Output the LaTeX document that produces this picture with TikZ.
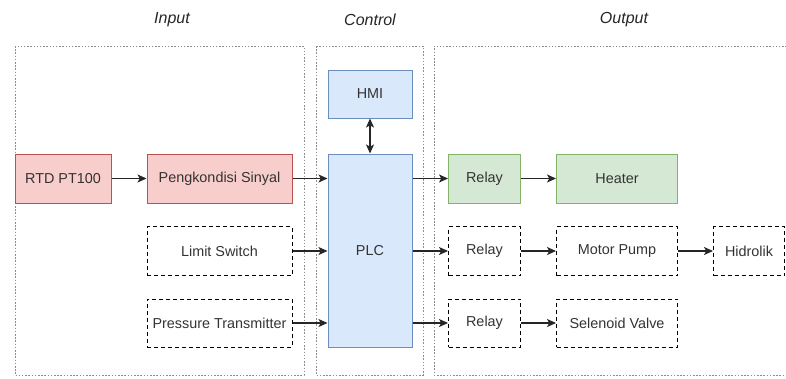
\documentclass[tikz,border=0pt]{standalone}
\usepackage{fontspec}
\setmainfont{Liberation Sans}
\usetikzlibrary{arrows.meta}
\definecolor{redfill}{HTML}{F8CECC}
\definecolor{redline}{HTML}{B85450}
\definecolor{bluefill}{HTML}{DAE8FC}
\definecolor{blueline}{HTML}{6C8EBF}
\definecolor{greenfill}{HTML}{D5E8D4}
\definecolor{greenline}{HTML}{82B366}
\definecolor{txt}{HTML}{333333}
\definecolor{grp}{HTML}{8C8C8C}
\tikzset{
  box/.style={rectangle, draw, line width=1pt, inner sep=0pt, text=txt,
    font=\fontsize{14.4}{16}\selectfont},
  redbox/.style={box, fill=redfill, draw=redline},
  bluebox/.style={box, fill=bluefill, draw=blueline},
  greenbox/.style={box, fill=greenfill, draw=greenline},
  dashbox/.style={box, draw=black, dash pattern=on 4pt off 3pt},
  grpline/.style={draw=grp, line width=1pt, dash pattern=on 1.5pt off 1.7pt},
  title/.style={font=\fontsize{16}{18}\selectfont\itshape, text=black!85},
  conn/.style={draw=black!85, line width=1.1pt, -{Stealth[length=9pt,width=8pt,inset=2.2pt]}},
  conn2/.style={draw=black!85, line width=1.1pt, {Stealth[length=9pt,width=8pt,inset=2.2pt]}-{Stealth[length=9pt,width=8pt,inset=2.2pt]}}
}
\begin{document}
\begin{tikzpicture}[x=1pt,y=-1pt]
\useasboundingbox (0,0) rectangle (786,378);
% group containers
\draw[grpline] (15,46) rectangle (304,375);
\draw[grpline] (316,46) rectangle (423,375);
\draw[grpline] (790,46) -- (434,46) -- (434,375) -- (790,375);
% titles
\node[title] (tin) at (172,20) {Input};
\node[title] (tctl) at (370,20) {Control};
\node[title] (tout) at (624,20) {Output};
% nodes
\node[redbox, minimum width=96, minimum height=49] (rtd) at (63,178.5) {RTD PT100};
\node[redbox, minimum width=145, minimum height=49] (pk) at (219.5,178.5) {Pengkondisi Sinyal};
\node[dashbox, minimum width=145, minimum height=49] (ls) at (219.5,251) {Limit Switch};
\node[dashbox, minimum width=145, minimum height=48] (pt) at (219.5,323) {Pressure Transmitter};
\node[bluebox, minimum width=84, minimum height=48] (hmi) at (370,94) {HMI};
\node[bluebox, minimum width=84, minimum height=193] (plc) at (370,250.5) {PLC};
\node[greenbox, minimum width=72, minimum height=49] (r1) at (484.5,178.5) {Relay};
\node[greenbox, minimum width=121, minimum height=49] (heater) at (617,178.5) {Heater};
\node[dashbox, minimum width=72, minimum height=49] (r2) at (484.5,251) {Relay};
\node[dashbox, minimum width=121, minimum height=49] (mp) at (617,251) {Motor Pump};
\node[dashbox, minimum width=71, minimum height=49] (hid) at (749,251) {Hidrolik};
\node[dashbox, minimum width=72, minimum height=48] (r3) at (484.5,323) {Relay};
\node[dashbox, minimum width=121, minimum height=48] (sv) at (617,323) {Selenoid Valve};
% connectors
\draw[conn] (rtd) -- (pk);
\draw[conn] (pk.east) -- (pk.east -| plc.west);
\draw[conn] (ls.east) -- (ls.east -| plc.west);
\draw[conn] (pt.east) -- (pt.east -| plc.west);
\draw[conn2] (hmi) -- (plc);
\draw[conn] (r1.west -| plc.east) -- (r1.west);
\draw[conn] (r2.west -| plc.east) -- (r2.west);
\draw[conn] (r3.west -| plc.east) -- (r3.west);
\draw[conn] (r1) -- (heater);
\draw[conn] (r2) -- (mp);
\draw[conn] (r3) -- (sv);
\draw[conn] (mp) -- (hid);
\end{tikzpicture}
\end{document}
